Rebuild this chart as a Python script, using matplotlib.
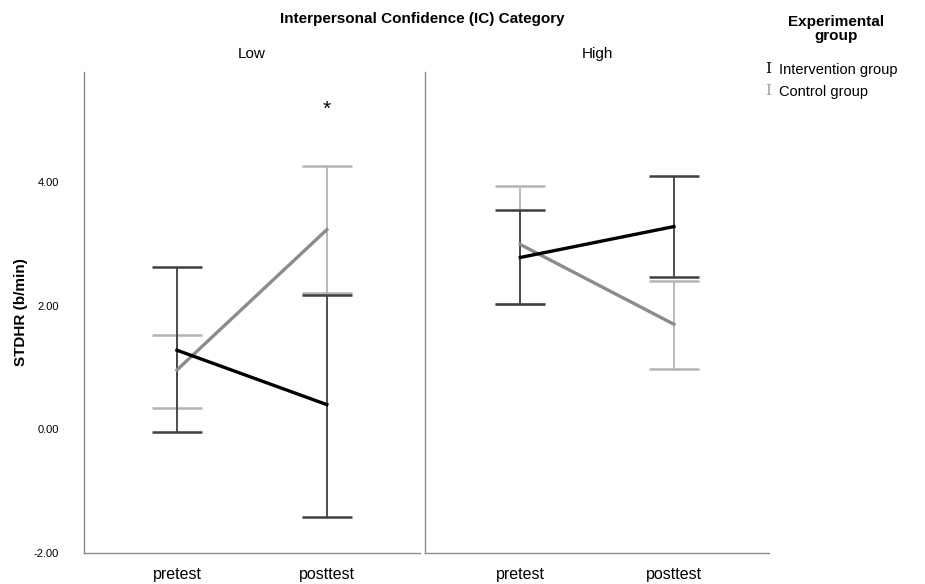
import matplotlib.pyplot as plt

plt.rcParams["font.family"] = ["Liberation Sans", "DejaVu Sans"]

times = ["pretest", "posttest"]
panels = ["Low", "High"]

# means and 95% CI bounds, per panel: [pretest, posttest]
interv_mean = {"Low": [1.28, 0.40], "High": [2.78, 3.28]}
interv_lo = {"Low": [-0.05, -1.41], "High": [2.03, 2.46]}
interv_hi = {"Low": [2.62, 2.18], "High": [3.54, 4.10]}

ctrl_mean = {"Low": [0.96, 3.23], "High": [2.99, 1.70]}
ctrl_lo = {"Low": [0.35, 2.20], "High": [2.02, 0.98]}
ctrl_hi = {"Low": [1.52, 4.26], "High": [3.94, 2.40]}

yticks = [-2.0, 0.0, 2.0, 4.0]

fig = plt.figure(figsize=(9.25, 5.84), dpi=100)
ax1 = fig.add_axes([0.0908, 0.0531, 0.363, 0.8236])
ax2 = fig.add_axes([0.4595, 0.0531, 0.372, 0.8236], sharey=ax1)

x = [0, 1]
for ax, p in zip([ax1, ax2], panels):
    # control group
    m, lo, hi = ctrl_mean[p], ctrl_lo[p], ctrl_hi[p]
    ax.errorbar(x, m, yerr=[[a - b for a, b in zip(m, lo)], [b - a for a, b in zip(m, hi)]],
                fmt="none", ecolor="#b4b4b4", elinewidth=1.3, capsize=18, capthick=1.8, zorder=2)
    ax.plot(x, m, color="#8c8c8c", lw=2.4, zorder=3)
    # intervention group
    m, lo, hi = interv_mean[p], interv_lo[p], interv_hi[p]
    ax.errorbar(x, m, yerr=[[a - b for a, b in zip(m, lo)], [b - a for a, b in zip(m, hi)]],
                fmt="none", ecolor="#404040", elinewidth=1.3, capsize=18, capthick=1.8, zorder=2)
    ax.plot(x, m, color="black", lw=2.4, zorder=4)

    ax.set_xlim(-0.62, 1.62)
    ax.set_xticks(x)
    ax.set_xticklabels(times, fontsize=11.5)
    ax.tick_params(axis="both", length=0)
    ax.tick_params(axis="x", pad=10)
    for s in ["top", "right"]:
        ax.spines[s].set_visible(False)
    for s in ["left", "bottom"]:
        ax.spines[s].set_color("#8c8c8c")
        ax.spines[s].set_linewidth(1.0)
    ax.set_title(p, fontsize=11, pad=10)

ax1.set_ylim(-1.92, 5.78)
ax1.set_yticks(yticks)
ax1.set_yticklabels([f"{v:.2f}" for v in yticks], fontsize=8)
ax1.tick_params(axis="y", pad=18)
ax2.tick_params(axis="y", labelleft=False)
ax1.set_ylabel("STDHR (b/min)", fontsize=11, fontweight="bold", labelpad=4)

ax1.text(1, 5.17, "*", ha="center", va="center", fontsize=15)

fig.text(0.457, 0.967, "Interpersonal Confidence (IC) Category", ha="center", va="center",
         fontsize=11, fontweight="bold")

# legend
fig.text(0.904, 0.95, "Experimental\ngroup", ha="center", va="center", fontsize=11,
         fontweight="bold", linespacing=1.05)
fig.text(0.830, 0.882, "I", color="black", fontsize=11, family="DejaVu Serif", ha="center", va="center")
fig.text(0.842, 0.880, "Intervention group", fontsize=10.5, ha="left", va="center")
fig.text(0.830, 0.844, "I", color="#9a9a9a", fontsize=11, family="DejaVu Serif", ha="center", va="center")
fig.text(0.842, 0.842, "Control group", fontsize=10.5, ha="left", va="center")

fig.savefig("out.png", dpi=100)
